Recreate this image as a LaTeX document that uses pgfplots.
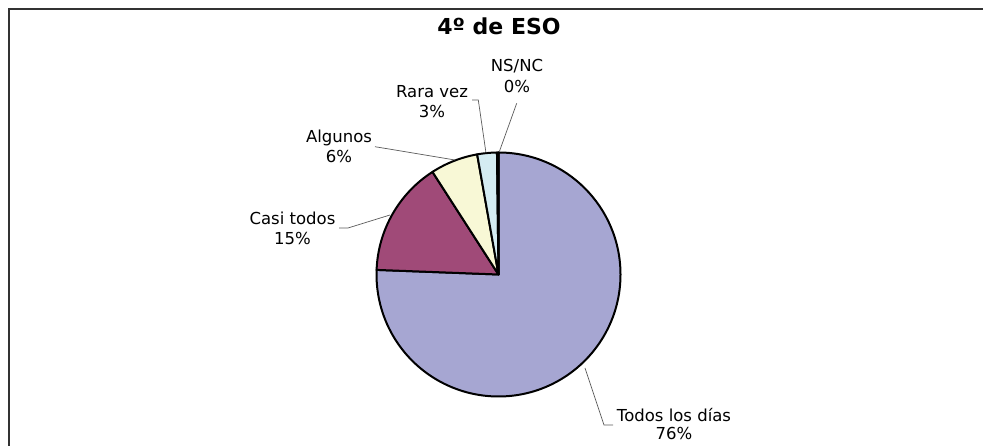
\documentclass[border=0pt]{standalone}
\usepackage{fontspec}
\setmainfont{DejaVu Sans}
\usepackage{pgfplots}
\usepackage{pgfplotstable}
\pgfplotsset{compat=1.18}
\definecolor{slice0}{RGB}{166,166,210}
\definecolor{slice1}{RGB}{160,74,120}
\definecolor{slice2}{RGB}{248,248,214}
\definecolor{slice3}{RGB}{212,236,242}
\definecolor{slice4}{RGB}{102,0,102}
\definecolor{framec}{RGB}{50,50,50}
\definecolor{leader}{RGB}{90,90,90}
\pgfplotstableread{
label value
Todos 75.6
Casi 15.3
Algunos 6.3
Rara 2.6
NSNC 0.2
}\piedata
\begin{document}
\begin{tikzpicture}
\useasboundingbox (0,0) rectangle (983pt,446pt);
\begin{axis}[
  at={(0,0)}, anchor=south west,
  x=1pt, y=1pt, scale only axis,
  xmin=0, xmax=983, ymin=0, ymax=446,
  hide axis, clip=false,
]
\addplot[draw=none] coordinates {(0,0) (983,446)};
% frame
\draw[line width=2pt, framec] (axis cs:9,-5) -- (axis cs:9,436.5) -- (axis cs:990,436.5);
% slices
\def\cum{0}
\pgfplotsforeachungrouped \i in {0,...,4}{%
  \pgfplotstablegetelem{\i}{value}\of\piedata
  \let\val\pgfplotsretval
  \pgfmathsetmacro\start{90-3.6*\cum}%
  \pgfmathsetmacro\stop{90-3.6*(\cum+\val)}%
  \pgfmathsetmacro\cum{\cum+\val}%
  \edef\temp{\noexpand\filldraw[fill=slice\i, draw=black, line width=2pt, line join=round]
    (axis cs:498.5,171.5) -- ++(\start:122pt) arc[start angle=\start, end angle=\stop, radius=122pt] -- cycle;}%
  \temp
}
% leaders
\draw[leader, line width=0.7pt] (axis cs:585,78) -- (axis cs:604,21) -- (axis cs:613,21);
\draw[leader, line width=0.7pt] (axis cs:339,218) -- (axis cs:348,218) -- (axis cs:390,231);
\draw[leader, line width=0.7pt] (axis cs:375,299.3) -- (axis cs:455,286);
\draw[leader, line width=0.7pt] (axis cs:472,346) -- (axis cs:478.3,346) -- (axis cs:486,293);
\draw[leader, line width=0.7pt] (axis cs:516.7,342.7) -- (axis cs:499.3,294.3);
% labels
\tikzset{lab/.style={anchor=base, inner sep=0pt, font=\fontsize{16.5}{19}\selectfont}}
\node[anchor=base, inner sep=0pt, font=\bfseries\fontsize{22}{26}\selectfont] at (axis cs:499,411) {4º de ESO};
\node[lab] at (axis cs:517,374) {NS/NC};
\node[lab] at (axis cs:517,353) {0\%};
\node[lab] at (axis cs:432,348) {Rara vez};
\node[lab] at (axis cs:432,328) {3\%};
\node[lab] at (axis cs:339,303) {Algunos};
\node[lab] at (axis cs:339,283) {6\%};
\node[lab] at (axis cs:292.5,221) {Casi todos};
\node[lab] at (axis cs:292.5,201) {15\%};
\node[lab] at (axis cs:674,24.3) {Todos los días};
\node[lab] at (axis cs:674,6) {76\%};
\end{axis}
\end{tikzpicture}
\end{document}
